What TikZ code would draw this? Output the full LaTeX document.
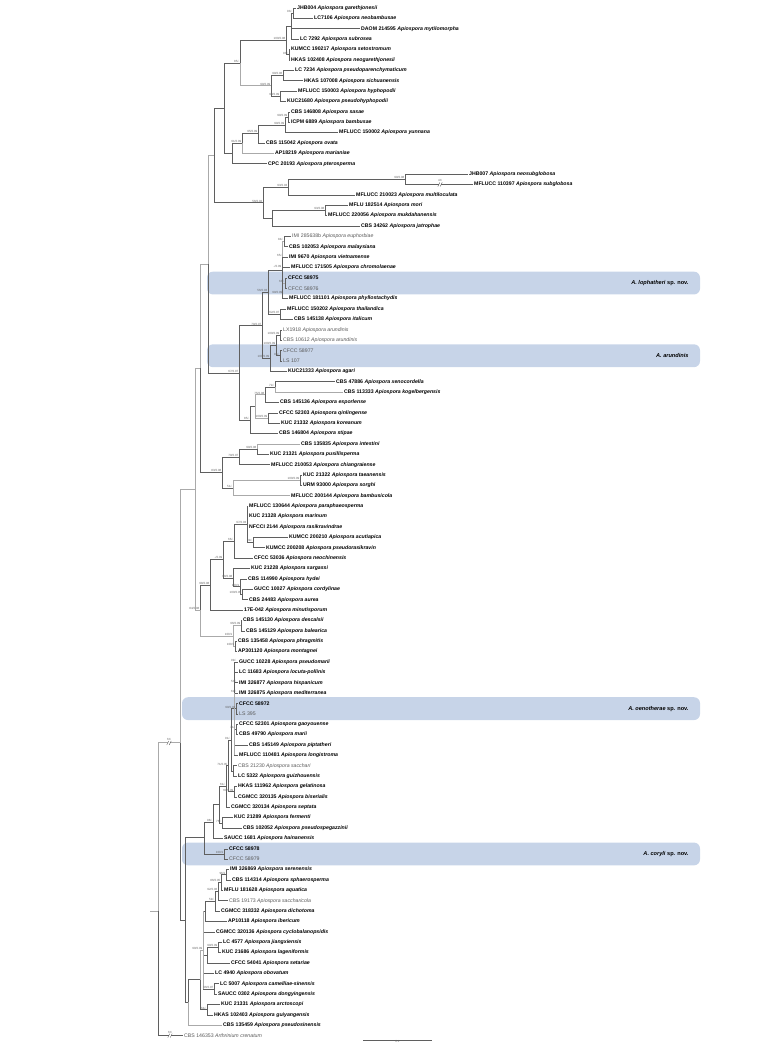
\documentclass[tikz,border=0pt]{standalone}
\usepackage{fontspec}
\setmainfont{Liberation Sans}
\usetikzlibrary{calc}
\begin{document}
\definecolor{boxc}{RGB}{199,212,232}
\definecolor{brc}{RGB}{95,95,95}
\definecolor{lgc}{RGB}{170,170,170}
\tikzset{
 lf/.style={anchor=west,inner xsep=1pt,inner ysep=0pt,font=\fontsize{5.2}{6}\selectfont},
 br/.style={draw=brc,line width=0.55pt},
 lg/.style={draw=lgc,line width=0.9pt},
 bs/.style={anchor=south east,inner sep=0.4pt,font=\fontsize{3}{3.5}\selectfont,text=black!60},
 bx/.style={fill=boxc,rounded corners=6pt},
 bl/.style={anchor=east,font=\fontsize{5.6}{6.5}\selectfont\bfseries}
}
\newcommand\LB[4]{\node[lf] (L#1) at (#2,#1) {\textbf{#3} \textbf{\textit{#4}}};}
\newcommand\LN[4]{\node[lf,text=black!65] (L#1) at (#2,#1) {#3 \textit{#4}};}
\newcommand\EE[2]{\draw[br] (#1) |- (#2);}
\newcommand\EG[2]{\draw[lg] (#1) |- (#2);}
\newcommand\BS[2]{\node[bs] (bs-#1) at (#1) {#2};}
\begin{tikzpicture}[x=1pt,y=-10.38pt]
\useasboundingbox (0,-0.771) rectangle (765,100.0);
% boxes
\path[bx] (207,25.4) rectangle (700,27.6);
\path[bx] (207,32.4) rectangle (700,34.6);
\path[bx] (182,66.4) rectangle (700,68.6);
\path[bx] (182,80.4) rectangle (700,82.6);
\node[bl] (b1) at (692,26.5) {\textit{A. lophatheri} sp. nov.};
\node[bl] (b2) at (692,33.5) {\textit{A. arundinis}};
\node[bl] (b3) at (692,67.5) {\textit{A. oenotherae} sp. nov.};
\node[bl] (b4) at (692,81.5) {\textit{A. coryli} sp. nov.};
% leaves
\LB{0}{296}{JHB004}{Apiospora garethjonesii}
\LB{1}{313}{LC7106}{Apiospora neobambusae}
\LB{2}{360}{DAOM 214595}{Apiospora mytilomorpha}
\LB{3}{299}{LC 7292}{Apiospora subrosea}
\LB{4}{290}{KUMCC 190217}{Apiospora setostromum}
\LB{5}{290}{HKAS 102408}{Apiospora neogarethjonesii}
\LB{6}{294}{LC 7234}{Apiospora pseudoparenchymaticum}
\LB{7}{303}{HKAS 107008}{Apiospora sichuanensis}
\LB{8}{297}{MFLUCC 150003}{Apiospora hyphopodii}
\LB{9}{286}{KUC21680}{Apiospora pseudohyphopodii}
\LB{10}{290}{CBS 146808}{Apiospora sasae}
\LB{11}{290}{ICPM 6889}{Apiospora bambusae}
\LB{12}{338}{MFLUCC 150002}{Apiospora yunnana}
\LB{13}{265}{CBS 115042}{Apiospora ovata}
\LB{14}{274}{AP18219}{Apiospora marianiae}
\LB{15}{267}{CPC 20193}{Apiospora pterosperma}
\LB{16}{468}{JHB007}{Apiospora neosubglobosa}
\LB{17}{473}{MFLUCC 110397}{Apiospora subglobosa}
\LB{18}{355}{MFLUCC 210023}{Apiospora multiloculata}
\LB{19}{348}{MFLU 182514}{Apiospora mori}
\LB{20}{327}{MFLUCC 220056}{Apiospora mukdahanensis}
\LB{21}{360}{CBS 34262}{Apiospora jatrophae}
\LN{22}{291}{IMI 285638b}{Apiospora euphorbiae}
\LB{23}{288}{CBS 102053}{Apiospora malaysiana}
\LB{24}{288}{IMI 9670}{Apiospora vietnamense}
\LB{25}{290}{MFLUCC 171505}{Apiospora chromolaenae}
\node[lf] (L26) at (287,26) {\textbf{CFCC 58975}};
\node[lf,text=black!65] (L27) at (287,27) {CFCC 58976};
\LB{28}{288}{MFLUCC 181101}{Apiospora phyllostachydis}
\LB{29}{286}{MFLUCC 150202}{Apiospora thailandica}
\LB{30}{293}{CBS 145138}{Apiospora italicum}
\LN{31}{282}{LX1918}{Apiospora arundinis}
\LN{32}{282}{CBS 10612}{Apiospora arundinis}
\node[lf,text=black!65] (L33) at (282,33) {CFCC 58977};
\node[lf,text=black!65] (L34) at (282,34) {LS 107};
\LB{35}{287}{KUC21333}{Apiospora agari}
\LB{36}{335}{CBS 47886}{Apiospora xenocordella}
\LB{37}{343}{CBS 113333}{Apiospora kogelbergensis}
\LB{38}{279}{CBS 145136}{Apiospora esporlense}
\LB{39}{278}{CFCC 52303}{Apiospora qinlingense}
\LB{40}{280}{KUC 21332}{Apiospora koreanum}
\LB{41}{278}{CBS 146804}{Apiospora stipae}
\LB{42}{300}{CBS 135835}{Apiospora intestini}
\LB{43}{269}{KUC 21321}{Apiospora pusillisperma}
\LB{44}{270}{MFLUCC 210053}{Apiospora chiangraiense}
\LB{45}{302}{KUC 21322}{Apiospora taeanensis}
\LB{46}{302}{URM 93000}{Apiospora sorghi}
\LB{47}{290}{MFLUCC 200144}{Apiospora bambusicola}
\LB{48}{248}{MFLUCC 130644}{Apiospora paraphaeosperma}
\LB{49}{248}{KUC 21328}{Apiospora marinum}
\LB{50}{248}{NFCCI 2144}{Apiospora rasikravindrae}
\LB{51}{288}{KUMCC 200210}{Apiospora acutiapica}
\LB{52}{265}{KUMCC 200208}{Apiospora pseudorasikravin}
\LB{53}{253}{CFCC 53036}{Apiospora neochinensis}
\LB{54}{250}{KUC 21228}{Apiospora sargassi}
\LB{55}{247}{CBS 114990}{Apiospora hydei}
\LB{56}{253}{GUCC 10027}{Apiospora cordylinae}
\LB{57}{248}{CBS 24483}{Apiospora aurea}
\LB{58}{243}{17E-042}{Apiospora minutisporum}
\LB{59}{242}{CBS 145130}{Apiospora descalsii}
\LB{60}{245}{CBS 145129}{Apiospora balearica}
\LB{61}{237}{CBS 135458}{Apiospora phragmitis}
\LB{62}{237}{AP301120}{Apiospora montagnei}
\LB{63}{238}{GUCC 10228}{Apiospora pseudomarii}
\LB{64}{238}{LC 11683}{Apiospora locuta-pollinis}
\LB{65}{238}{IMI 326877}{Apiospora hispanicum}
\LB{66}{238}{IMI 326875}{Apiospora mediterranea}
\node[lf] (L67) at (238,67) {\textbf{CFCC 58972}};
\node[lf,text=black!65] (L68) at (238,68) {LS 395};
\LB{69}{238}{CFCC 52301}{Apiospora gaoyouense}
\LB{70}{238}{CBS 49790}{Apiospora marii}
\LB{71}{248}{CBS 145149}{Apiospora piptatheri}
\LB{72}{238}{MFLUCC 110481}{Apiospora longistroma}
\LN{73}{237}{CBS 21230}{Apiospora sacchari}
\LB{74}{237}{LC 5322}{Apiospora guizhouensis}
\LB{75}{237}{HKAS 111962}{Apiospora gelatinosa}
\LB{76}{237}{CGMCC 320135}{Apiospora biserialis}
\LB{77}{230}{CGMCC 320134}{Apiospora septata}
\LB{78}{233}{KUC 21289}{Apiospora fermenti}
\LB{79}{242}{CBS 102052}{Apiospora pseudospegazzinii}
\LB{80}{223}{SAUCC 1681}{Apiospora hainanensis}
\node[lf] (L81) at (228,81) {\textbf{CFCC 58978}};
\node[lf,text=black!65] (L82) at (228,82) {CFCC 58979};
\LB{83}{229}{IMI 326869}{Apiospora serenensis}
\LB{84}{231}{CBS 114314}{Apiospora sphaerosperma}
\LB{85}{223}{MFLU 181628}{Apiospora aquatica}
\LN{86}{228}{CBS 19173}{Apiospora saccharicola}
\LB{87}{220}{CGMCC 318332}{Apiospora dichotoma}
\LB{88}{227}{AP10118}{Apiospora ibericum}
\LB{89}{215}{CGMCC 320136}{Apiospora cyclobalanopsidis}
\LB{90}{222}{LC 4577}{Apiospora jiangxiensis}
\LB{91}{221}{KUC 21686}{Apiospora lageniformis}
\LB{92}{230}{CFCC 54041}{Apiospora setariae}
\LB{93}{214}{LC 4940}{Apiospora obovatum}
\LB{94}{219}{LC 5007}{Apiospora camelliae-sinensis}
\LB{95}{217}{SAUCC 0302}{Apiospora dongyingensis}
\LB{96}{220}{KUC 21331}{Apiospora arctoscopi}
\LB{97}{213}{HKAS 102403}{Apiospora guiyangensis}
\LB{98}{222}{CBS 135459}{Apiospora pseudosinensis}
\LN{99}{183}{CBS 146353}{Arthrinium crenatum}
% internal nodes
\coordinate (A01) at (293,0.5); \coordinate (A03) at (291,1.75);
\coordinate (A45) at (289,4.5); \coordinate (A05) at (286,3.1);
\coordinate (A67) at (283,6.5); \coordinate (A89) at (280,8.5);
\coordinate (A69) at (271,7.5); \coordinate (A85) at (240,5.3);
\coordinate (A1011) at (288,10.5); \coordinate (A1012) at (285,11.25);
\coordinate (A1013) at (258,12.1); \coordinate (A1014) at (242,13.05);
\coordinate (A1015) at (232,14.0); \coordinate (T) at (224,9.65);
\coordinate (B1617) at (405,16.5); \coordinate (B1618) at (288,17.25);
\coordinate (B1920) at (325,19.5); \coordinate (B1921) at (272,20.25);
\coordinate (B56) at (263,18.75); \coordinate (X1a) at (214,14.2);
\coordinate (C2223) at (284,22.5); \coordinate (C2627) at (285,26.5);
\coordinate (Na) at (282,25.25); \coordinate (Nb) at (280,29.5);
\coordinate (Nc) at (268,27.4); \coordinate (Ng) at (280,31.5);
\coordinate (Nh) at (280,33.5); \coordinate (Ni) at (276,32.5);
\coordinate (Nj) at (270,33.75); \coordinate (Nf) at (262,30.6);
\coordinate (K3637) at (275,36.5); \coordinate (K3638) at (265,37.25);
\coordinate (K3940) at (268,39.5); \coordinate (K3640) at (255,38.4);
\coordinate (K85) at (250,39.7); \coordinate (Ne) at (239,35.15);
\coordinate (X1) at (208,24.7);
\coordinate (M4243) at (257,42.5); \coordinate (M79) at (239,43.25);
\coordinate (M4546) at (300,45.5); \coordinate (M51) at (233,46.25);
\coordinate (M83) at (222,44.75); \coordinate (X2) at (200,34.7);
\coordinate (P5152) at (253,51.5); \coordinate (P97) at (247,49.75);
\coordinate (P66) at (234,51.4); \coordinate (P100b) at (242,56.5);
\coordinate (P100) at (240,55.75); \coordinate (P54) at (233,54.9);
\coordinate (P98a) at (223,53.1); \coordinate (P98b) at (210,55.6);
\coordinate (Q5960) at (241,59.5); \coordinate (Q6162) at (235,61.5);
\coordinate (Q) at (233,60.5); \coordinate (N84) at (200,58.0);
\coordinate (X3) at (195,46.4);
\coordinate (S6768) at (236,67.5); \coordinate (S6970) at (236,69.5);
\coordinate (Sbig) at (234,67.5); \coordinate (S7374) at (233,73.5);
\coordinate (S91) at (231,70.5); \coordinate (S7576) at (234,75.5);
\coordinate (S71) at (228,73); \coordinate (S61) at (226,75);
\coordinate (S7879) at (222,78.5); \coordinate (S98) at (219,76.75);
\coordinate (Ss) at (213,78.4); \coordinate (Cor) at (224,81.5);
\coordinate (U) at (204,79.9);
\coordinate (W8384) at (226,83.5); \coordinate (W85) at (221,84.25);
\coordinate (W86) at (218,85.1); \coordinate (W87) at (215,86.05);
\coordinate (W88) at (205,87.0); \coordinate (W9091) at (218,90.5);
\coordinate (W92) at (207,91.25); \coordinate (W9495) at (214,94.5);
\coordinate (W) at (203,90.75); \coordinate (W9697) at (207,96.5);
\coordinate (W2) at (200,93.6); \coordinate (X5) at (188,95.8);
\coordinate (V) at (185,87.85); \coordinate (X4) at (180,70.8);
\coordinate (R) at (158,87); \coordinate (Rs) at (150,87);
% edges
\EE{A01}{L0.west}\EE{A01}{L1.west}
\EE{A03}{A01}\EE{A03}{L2.west}\EE{A03}{L3.west}
\EE{A45}{L4.west}\EE{A45}{L5.west}
\EE{A05}{A03}\EE{A05}{A45}
\EE{A67}{L6.west}\EE{A67}{L7.west}
\EE{A89}{L8.west}\EE{A89}{L9.west}
\EE{A69}{A67}\EE{A69}{A89}
\EE{A85}{A05}\EG{A85}{A69}
\EE{A1011}{L10.west}\EE{A1011}{L11.west}
\EE{A1012}{A1011}\EE{A1012}{L12.west}
\EE{A1013}{A1012}\EE{A1013}{L13.west}
\EE{A1014}{A1013}\EG{A1014}{L14.west}
\EE{A1015}{A1014}\EE{A1015}{L15.west}
\EE{T}{A85}\EE{T}{A1015}
\EE{B1617}{L16.west}\EE{B1617}{L17.west}
\EE{B1618}{B1617}\EE{B1618}{L18.west}
\EE{B1920}{L19.west}\EE{B1920}{L20.west}
\EE{B1921}{B1920}\EE{B1921}{L21.west}
\EE{B56}{B1618}\EE{B56}{B1921}
\EE{X1a}{T}\EE{X1a}{B56}
\EE{C2223}{L22.west}\EE{C2223}{L23.west}
\EE{C2627}{L26.west}\EE{C2627}{L27.west}
\draw[lg] (Na) |- (C2223); \draw[lg] (Na) |- (C2627);
\EE{Na}{L24.west}\EE{Na}{L25.west}\EE{Na}{L28.west}
\EE{Nb}{L29.west}\EE{Nb}{L30.west}
\EE{Nc}{Na}\EE{Nc}{Nb}
\EE{Ng}{L31.west}\EE{Ng}{L32.west}
\EE{Nh}{L33.west}\EE{Nh}{L34.west}
\EE{Ni}{Ng}\EE{Ni}{Nh}
\EE{Nj}{Ni}\EE{Nj}{L35.west}
\EE{Nf}{Nc}\EE{Nf}{Nj}
\EE{K3637}{L36.west}\EG{K3637}{L37.west}
\EE{K3638}{K3637}\EE{K3638}{L38.west}
\EE{K3940}{L39.west}\EE{K3940}{L40.west}
\EG{K3640}{K3638}\EG{K3640}{K3940}
\EE{K85}{K3640}\EE{K85}{L41.west}
\EE{Ne}{Nf}\EE{Ne}{K85}
\EG{X1}{X1a}\EE{X1}{Ne}
\EG{M4243}{L42.west}\EE{M4243}{L43.west}
\EE{M79}{M4243}\EE{M79}{L44.west}
\EE{M4546}{L45.west}\EE{M4546}{L46.west}
\EG{M51}{M4546}\EG{M51}{L47.west}
\EE{M83}{M79}\EE{M83}{M51}
\EG{X2}{X1}\EE{X2}{M83}
\EE{P5152}{L51.west}\EE{P5152}{L52.west}
\EE{P97}{L48.west}\EE{P97}{L49.west}\EE{P97}{L50.west}\EE{P97}{P5152}
\EE{P66}{P97}\EE{P66}{L53.west}
\EE{P100b}{L56.west}\EE{P100b}{L57.west}
\EE{P100}{L55.west}\EE{P100}{P100b}
\EE{P54}{L54.west}\EE{P54}{P100}
\EE{P98a}{P66}\EE{P98a}{P54}
\EE{P98b}{P98a}\EE{P98b}{L58.west}
\EE{Q5960}{L59.west}\EE{Q5960}{L60.west}
\EE{Q6162}{L61.west}\EE{Q6162}{L62.west}
\EG{Q}{Q5960}\EG{Q}{Q6162}
\EE{N84}{P98b}\EG{N84}{Q}
\EG{X3}{X2}\EG{X3}{N84}
\EE{S6768}{L67.west}\EE{S6768}{L68.west}
\EE{S6970}{L69.west}\EE{S6970}{L70.west}
\foreach \c in {L63.west,L64.west,L65.west,L66.west,S6768,S6970,L71.west,L72.west} {\draw[br] (Sbig) |- (\c);}
\draw[lg] (Sbig|-L66) -- (Sbig|-L72);
\EE{S7374}{L73.west}\EE{S7374}{L74.west}
\EE{S91}{Sbig}\EE{S91}{S7374}
\EE{S7576}{L75.west}\EE{S7576}{L76.west}
\EE{S71}{S91}\EE{S71}{S7576}
\EE{S61}{S71}\EE{S61}{L77.west}
\EE{S7879}{L78.west}\EE{S7879}{L79.west}
\EE{S98}{S61}\EE{S98}{S7879}
\EE{Ss}{S98}\EE{Ss}{L80.west}
\EE{Cor}{L81.west}\EE{Cor}{L82.west}
\EE{U}{Ss}\EE{U}{Cor}
\EE{W8384}{L83.west}\EE{W8384}{L84.west}
\EE{W85}{W8384}\EE{W85}{L85.west}
\EE{W86}{W85}\EE{W86}{L86.west}
\EE{W87}{W86}\EE{W87}{L87.west}
\EE{W88}{W87}\EE{W88}{L88.west}
\EE{W9091}{L90.west}\EE{W9091}{L91.west}
\EE{W92}{W9091}\EE{W92}{L92.west}
\EE{W9495}{L94.west}\EE{W9495}{L95.west}
\foreach \c in {W88,L89.west,W92,L93.west,W9495} {\draw[br] (W) |- (\c);}
\draw[lg] (W|-W88) -- (W|-W9495);
\EE{W9697}{L96.west}\EE{W9697}{L97.west}
\EG{W2}{W}\EE{W2}{W9697}
\EE{X5}{W2}\EG{X5}{L98.west}
\EE{V}{U}\EE{V}{X5}
\EG{X4}{X3}\EE{X4}{V}
\draw[lg] (R) |- (X4);
\EE{R}{L99.west}
\draw[lg] (Rs) -- (R);
% breaks
\coordinate (k1) at (169,70.8); \coordinate (k2) at (170,99); \coordinate (k3) at (440,17);
\foreach \k in {k1,k2,k3} {
 \fill[white] ([xshift=-1.2pt,yshift=-2pt]\k) rectangle ([xshift=1.2pt,yshift=2pt]\k);
 \draw[brc,line width=0.4pt] ([xshift=-2.2pt,yshift=-2pt]\k) -- ([xshift=-0.2pt,yshift=2pt]\k);
 \draw[brc,line width=0.4pt] ([xshift=0.2pt,yshift=-2pt]\k) -- ([xshift=2.2pt,yshift=2pt]\k);
}
\node[bs,anchor=south] (x1) at ([yshift=2pt]k1) {6X};
\node[bs,anchor=south] (x2) at ([yshift=2pt]k2) {6X};
\node[bs,anchor=south] (x3) at ([yshift=2pt]k3) {4X};
% scale bar
\coordinate (sc1) at (363,99.45); \coordinate (sc2) at (432,99.45);
\draw[brc,line width=0.4pt] (sc1) -- (sc2);
\node[bs,anchor=north] (sct) at ($(sc1)!0.5!(sc2)$) {0.1};
% support values
\BS{A01}{93/-}\BS{A45}{93/-}\BS{A05}{100/0.98}\BS{A85}{85/-}
\BS{A67}{99/0.96}\BS{A69}{99/0.99}\BS{A89}{99/0.99}
\BS{A1011}{99/0.99}\BS{A1012}{99/0.99}\BS{A1013}{95/0.99}\BS{A1014}{91/0.99}
\BS{B1617}{99/0.98}\BS{B1618}{93/0.93}\BS{B1920}{93/0.98}\BS{B56}{56/0.92}
\BS{C2223}{84/-}\BS{C2627}{63/-}
\coordinate (s1) at (283,24); \coordinate (s2) at (282,25.1); \coordinate (s3) at (283,27.6);
\BS{s1}{65/-}\BS{s2}{-/0.99}\BS{s3}{99/0.99}
\BS{Nb}{62/0.97}\BS{Nc}{56/0.93}\BS{Nf}{79/0.97}\BS{Ne}{67/0.97}
\BS{Ng}{100/0.99}\BS{Ni}{100/0.99}\BS{Nh}{98/-}\BS{Nj}{100/0.99}
\BS{K3637}{72/-}\BS{K3638}{75/0.98}\BS{K3940}{100/0.99}\BS{K85}{85/-}
\BS{M4243}{99/0.98}\BS{M79}{79/0.97}\BS{M4546}{100/0.99}\BS{M51}{51/-}\BS{M83}{83/0.98}
\BS{P97}{97/0.93}\BS{P5152}{99/-}\BS{P66}{66/-}\BS{P98a}{-/0.99}\BS{P54}{98/0.98}
\BS{P98b}{98/0.98}\BS{P100}{100/1}\BS{P100b}{100/0.99}
\BS{Q5960}{96/0.99}\BS{Q}{100/1}\BS{Q6162}{100/1}\BS{N84}{84/0.98}
\coordinate (s4) at (237,63); \coordinate (s5) at (237,65); \coordinate (s6) at (237,66);
\BS{s4}{99/-}\BS{s5}{53/-}\BS{s6}{61/-}
\BS{S6768}{99/0.93}\BS{S6970}{71/-}\BS{S91}{91/-}\BS{S7576}{69/0.99}
\BS{S71}{71/0.95}\BS{S61}{61/-}\BS{S7879}{76/-}\BS{Ss}{98/-}\BS{Cor}{100/1}
\BS{W8384}{96/1}\BS{W85}{86/0.95}\BS{W86}{92/0.96}\BS{W87}{59/-}
\BS{W}{90/0.99}\BS{W9091}{99/0.99}\BS{W9495}{96/0.97}\BS{W9697}{64/-}
\end{tikzpicture}
\end{document}
